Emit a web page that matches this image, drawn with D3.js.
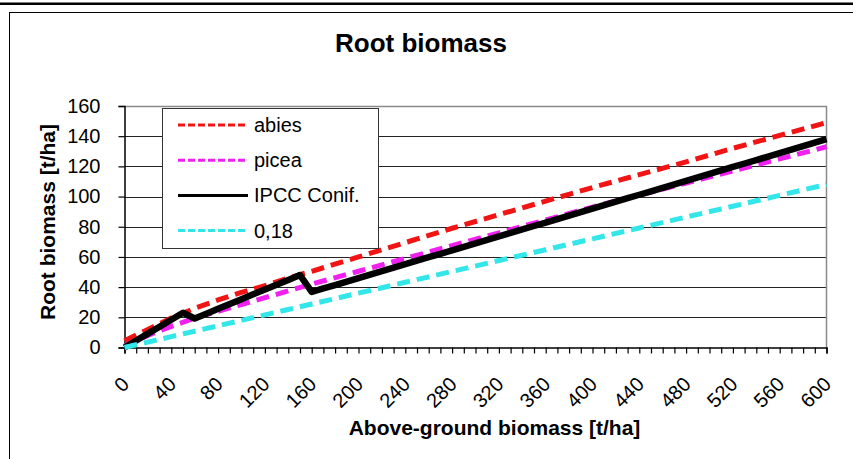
<!DOCTYPE html>
<html>
<head>
<meta charset="utf-8">
<script src="https://cdn.jsdelivr.net/npm/d3@7"></script>
<style>
  body { margin: 0; background: #fff; }
  svg { display: block; }
  text { font-family: "Liberation Sans", Arial, sans-serif; fill: #000; }
</style>
</head>
<body>
<svg id="chart" width="853" height="459"></svg>
<script>
// Above-ground biomass steps (t/ha) for the IPCC conifer curve
const xIpcc = [0, 10, 20, 30, 40, 50, 60, 70, 80, 90, 100, 110, 120, 130, 140, 150,
  160, 170, 180, 190, 200, 210, 220, 230, 240, 250, 260, 270, 280, 290, 300,
  310, 320, 330, 340, 350, 360, 370, 380, 390, 400, 410, 420, 430, 440, 450,
  460, 470, 480, 490, 500, 510, 520, 530, 540, 550, 560, 570, 580, 590, 600];
const ipccConif = [0, 4.6, 9.2, 13.8, 18.4, 23,
  19.2, 22.4, 25.6, 28.8, 32, 35.2, 38.4, 41.6, 44.8, 48,
  36.8, 39.1, 41.4, 43.7, 46, 48.3, 50.6, 52.9, 55.2, 57.5, 59.8, 62.1, 64.4,
  66.7, 69, 71.3, 73.6, 75.9, 78.2, 80.5, 82.8, 85.1, 87.4, 89.7, 92, 94.3,
  96.6, 98.9, 101.2, 103.5, 105.8, 108.1, 110.4, 112.7, 115, 117.3, 119.6,
  121.9, 124.2, 126.5, 128.8, 131.1, 133.4, 135.7, 138];

// Above-ground biomass steps (t/ha) for the species curves
const xSpecies = [0, 20, 40, 60, 80, 100, 120, 140, 160, 200, 240, 280, 320,
  360, 400, 440, 480, 520, 560, 600];
const abies = [4.5, 12, 19.5, 26, 31.5, 36.5, 41, 46, 50.5, 60, 69.5, 79, 88,
  97, 106, 114.5, 123, 132, 140.5, 149];
const picea = [1, 8, 14, 19.5, 24, 28.5, 33, 37.5, 42, 50.5, 59, 67.5, 76,
  84.5, 93, 101, 109, 117, 125, 133];
const ratio018 = [0, 3.6, 7.2, 10.8, 14.4, 18, 21.6, 25.2, 28.8, 36, 43.2, 50.4,
  57.6, 64.8, 72, 79.2, 86.4, 93.6, 100.8, 108];

const xTickLabels = [0, 40, 80, 120, 160, 200, 240, 280, 320, 360, 400, 440, 480, 520, 560, 600];
const yTickLabels = [0, 20, 40, 60, 80, 100, 120, 140, 160];

const seriesNames = ["abies", "picea", "IPCC Conif.", "0,18"];

const svg = d3.select("#chart");
const W = 853, H = 459;
const plot = { left: 124.5, right: 826.5, top: 106, bottom: 347.5 };

// page frame
svg.append("rect").attr("width", W).attr("height", H).attr("fill", "#fff");
svg.append("line").attr("x1", 0).attr("x2", W).attr("y1", 3.7).attr("y2", 3.7)
  .attr("stroke", "#000").attr("stroke-width", 2.5);
svg.append("rect").attr("x", 9.5).attr("y", 12.5).attr("width", W + 20).attr("height", H + 20)
  .attr("fill", "none").attr("stroke", "#000").attr("stroke-width", 1);

const x = d3.scaleLinear().domain([0, 600]).range([plot.left, plot.right]);
const y = d3.scaleLinear().domain([0, 160]).range([plot.bottom, plot.top]);

// horizontal gridlines
svg.append("g").selectAll("line").data(yTickLabels.filter(v => v > 0 && v < 160)).join("line")
  .attr("x1", plot.left).attr("x2", plot.right)
  .attr("y1", d => Math.round(y(d)) + 0.5).attr("y2", d => Math.round(y(d)) + 0.5)
  .attr("stroke", "#222").attr("stroke-width", 1);

// plot area border (top and right)
svg.append("path")
  .attr("d", `M${plot.left},${plot.top + 0.5}H${plot.right}V${plot.bottom}`)
  .attr("fill", "none").attr("stroke", "#8a8a8a").attr("stroke-width", 1.5);

// y axis
const yAxis = d3.axisLeft(y).tickValues(yTickLabels).tickSize(6).tickPadding(18).tickFormat(d3.format("d"));
const gy = svg.append("g").attr("transform", `translate(${plot.left},0)`).call(yAxis);
gy.select(".domain").attr("stroke", "#000").attr("stroke-width", 1.5);
gy.selectAll(".tick line").attr("stroke", "#000").attr("stroke-width", 1.2);
gy.selectAll(".tick text").attr("font-size", 20).attr("font-family", '"Liberation Sans", Arial, sans-serif');

// x axis: a tick at every step, labels every fourth
const xAxis = d3.axisBottom(x).tickValues(xIpcc).tickSize(6).tickFormat("");
const gx = svg.append("g").attr("transform", `translate(0,${plot.bottom})`).call(xAxis);
gx.select(".domain").attr("stroke", "#000").attr("stroke-width", 1.5);
gx.selectAll(".tick line").attr("stroke", "#000").attr("stroke-width", 1.2);

svg.append("g").selectAll("text").data(xTickLabels).join("text")
  .attr("transform", d => `translate(${x(d) + 1},${plot.bottom + 33}) rotate(-45)`)
  .attr("text-anchor", "end").attr("dy", "0.35em")
  .attr("font-size", 20)
  .text(d => d);

// titles
svg.append("text").attr("x", 421).attr("y", 52).attr("text-anchor", "middle")
  .attr("font-size", 26).attr("font-weight", "bold").text("Root biomass");
svg.append("text").attr("x", 494.5).attr("y", 435).attr("text-anchor", "middle")
  .attr("font-size", 21).attr("font-weight", "bold").text("Above-ground biomass [t/ha]");
svg.append("text").attr("transform", "translate(55,222) rotate(-90)").attr("text-anchor", "middle")
  .attr("font-size", 21).attr("font-weight", "bold").text("Root biomass [t/ha]");

// series
const series = [
  { name: seriesNames[0], xs: xSpecies, ys: abies, color: "#f01414", width: 5, dash: "13,7" },
  { name: seriesNames[1], xs: xSpecies, ys: picea, color: "#f020f0", width: 5, dash: "13,7" },
  { name: seriesNames[2], xs: xIpcc, ys: ipccConif, color: "#000", width: 6.5, dash: null },
  { name: seriesNames[3], xs: xSpecies, ys: ratio018, color: "#33e6ea", width: 5, dash: "13,7" }
];

const line = d3.line().x(d => x(d[0])).y(d => y(d[1]));
const gSeries = svg.append("g");
series.forEach(s => {
  gSeries.append("path")
    .datum(s.xs.map((v, i) => [v, s.ys[i]]))
    .attr("d", line)
    .attr("fill", "none")
    .attr("stroke", s.color)
    .attr("stroke-width", s.width)
    .attr("stroke-linejoin", "round")
    .attr("stroke-dasharray", s.dash);
});

// legend
const legend = svg.append("g");
legend.append("rect").attr("x", 162.5).attr("y", 108.5).attr("width", 216).attr("height", 140)
  .attr("fill", "#fff").attr("stroke", "#333").attr("stroke-width", 1);
series.forEach((s, i) => {
  const ly = 125 + i * 35.2;
  legend.append("line").attr("x1", 178).attr("x2", 248).attr("y1", ly).attr("y2", ly)
    .attr("stroke", s.color).attr("stroke-width", 3)
    .attr("stroke-dasharray", s.dash ? "7,3" : null);
  legend.append("text").attr("x", 254).attr("y", ly).attr("dy", "0.35em")
    .attr("font-size", 20).text(s.name);
});
</script>
</body>
</html>
